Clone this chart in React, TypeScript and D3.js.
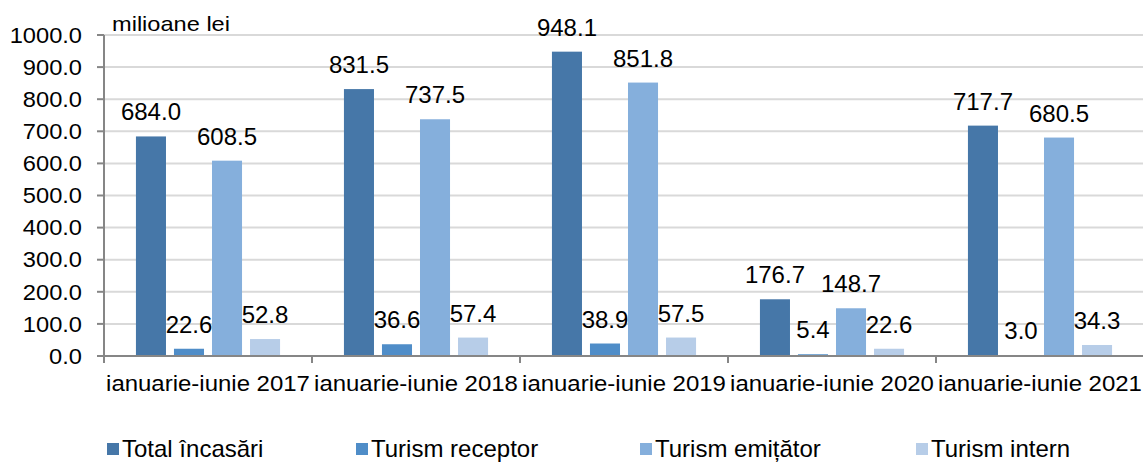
import React from "react";
import * as d3 from "d3";

const categories = [
  "ianuarie-iunie 2017",
  "ianuarie-iunie 2018",
  "ianuarie-iunie 2019",
  "ianuarie-iunie 2020",
  "ianuarie-iunie 2021",
];
const seriesNames = ["Total încasări", "Turism receptor", "Turism emițător", "Turism intern"];
const totalIncasari = [684.0, 831.5, 948.1, 176.7, 717.7];
const turismReceptor = [22.6, 36.6, 38.9, 5.4, 3.0];
const turismEmitator = [608.5, 737.5, 851.8, 148.7, 680.5];
const turismIntern = [52.8, 57.4, 57.5, 22.6, 34.3];
const yTicks = [0, 100, 200, 300, 400, 500, 600, 700, 800, 900, 1000];
const unitLabel = "milioane lei";

const colors = ["#4677A8", "#4F8DC8", "#85AFDC", "#B7CDE8"];
const FONT = "'Liberation Sans', Arial, sans-serif";

export default function App() {
  const W = 1143;
  const H = 462;
  const left = 104;
  const right = 1144;
  const top = 35;
  const bottom = 356;

  const seriesValues = [totalIncasari, turismReceptor, turismEmitator, turismIntern];

  const x0 = d3.scaleBand<string>().domain(categories).range([left, right]).padding(0);
  const x1 = d3
    .scaleBand<string>()
    .domain(seriesNames)
    .range([0, x0.bandwidth()])
    .paddingInner(0.21)
    .paddingOuter(0.84);
  const y = d3.scaleLinear().domain([0, 1000]).range([bottom, top]);
  const fmt = d3.format(".1f");

  const legendX = [107, 356, 640, 916];

  return (
    <svg
      width={W}
      height={H}
      style={{ position: "absolute", left: 0, top: 0, background: "#fff" }}
      fontFamily={FONT}
    >
      {/* gridlines */}
      {yTicks.map((t) =>
        t === 0 ? null : (
          <line key={"g" + t} x1={left} x2={right} y1={y(t)} y2={y(t)} stroke="#D9D9D9" strokeWidth={2} />
        )
      )}
      {/* y axis */}
      <line x1={left} x2={left} y1={top} y2={bottom} stroke="#868686" strokeWidth={2} />
      {yTicks.map((t) => (
        <g key={"yt" + t}>
          <line x1={left - 7} x2={left} y1={y(t)} y2={y(t)} stroke="#868686" strokeWidth={2} />
          <g transform={`translate(82,${y(t) + 7.7}) scale(1.1,1)`}>
            <text x={0} y={0} textAnchor="end" fontSize={21.5} fill="#000">
              {fmt(t)}
            </text>
          </g>
        </g>
      ))}
      <g transform={`translate(112,31) scale(1.18,1)`}>
        <text x={0} y={0} fontSize={20} fill="#000">
          {unitLabel}
        </text>
      </g>

      {/* bars */}
      {categories.map((c, ci) => (
        <g key={"c" + c} transform={`translate(${x0(c)},0)`}>
          {seriesNames.map((s, si) => {
            const v = seriesValues[si][ci];
            return (
              <rect
                key={s}
                x={x1(s)}
                y={y(v)}
                width={x1.bandwidth()}
                height={y(0) - y(v)}
                fill={colors[si]}
              />
            );
          })}
          {seriesNames.map((s, si) => {
            const v = seriesValues[si][ci];
            return (
              <text
                key={"l" + s}
                x={(x1(s) as number) + x1.bandwidth() / 2}
                y={y(v) - 16}
                textAnchor="middle"
                fontSize={24}
                fill="#000"
              >
                {fmt(v)}
              </text>
            );
          })}
        </g>
      ))}

      {/* x axis */}
      <line x1={left} x2={right} y1={bottom} y2={bottom} stroke="#868686" strokeWidth={2} />
      {categories.map((c, i) => (
        <line
          key={"xt" + i}
          x1={x0(c) as number}
          x2={x0(c) as number}
          y1={bottom}
          y2={bottom + 7}
          stroke="#868686"
          strokeWidth={2}
        />
      ))}
      {categories.map((c) => (
        <g key={"xl" + c} transform={`translate(${(x0(c) as number) + x0.bandwidth() / 2},391) scale(1.09,1)`}>
          <text x={0} y={0} textAnchor="middle" fontSize={22} fill="#000">
            {c}
          </text>
        </g>
      ))}

      {/* legend */}
      {seriesNames.map((s, i) => (
        <g key={"lg" + s} transform={`translate(${legendX[i]},0)`}>
          <rect x={0} y={443} width={12} height={12} fill={colors[i]} />
          <text x={15} y={457} fontSize={24} fill="#000">
            {s}
          </text>
        </g>
      ))}
    </svg>
  );
}
